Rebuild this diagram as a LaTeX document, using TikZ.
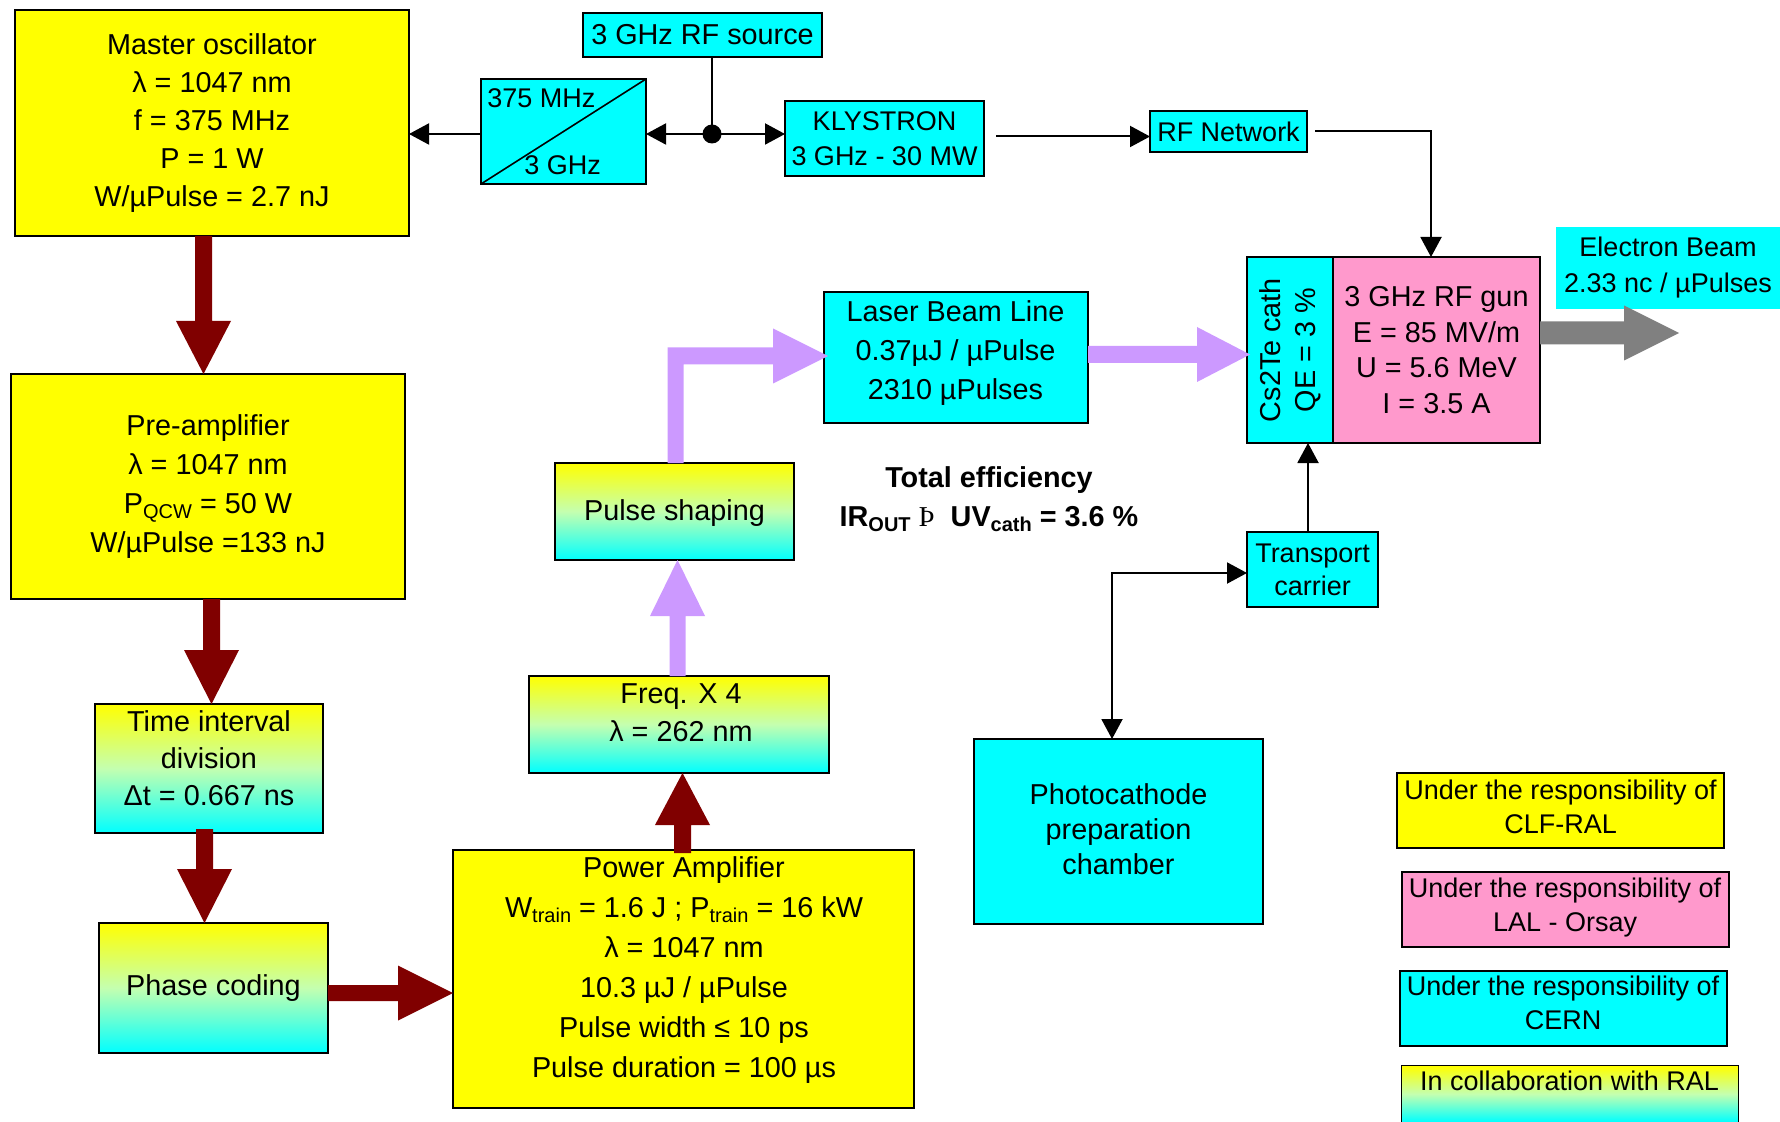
\documentclass[tikz,border=0pt]{standalone}
\usepackage{fontspec}
\setmainfont{Liberation Sans}
\newfontfamily\serifthorn{Liberation Serif}
\usetikzlibrary{arrows.meta,calc}
\definecolor{ylw}{HTML}{FFFF00}
\definecolor{cyn}{HTML}{00FFFF}
\definecolor{gmid}{HTML}{C4FFB0}
\definecolor{pnk}{HTML}{FF99CC}
\definecolor{pur}{HTML}{CC99FF}
\definecolor{dred}{HTML}{800000}
\definecolor{gry}{HTML}{808080}
\newcommand\sbs[1]{\raisebox{-2.5pt}{\fontsize{10}{10}\selectfont #1}}
% block arrows: [style]{start}{tip}{stem half}{head half}{head length}
\newcommand\arrD[6][]{\fill[#1] ($(#3)+(-#5,-#6)$) -- (#3) -- ($(#3)+(#5,-#6)$) -- ($(#3)+(#4,-#6)$) -- ($(#2)+(#4,0)$) -- ($(#2)+(-#4,0)$) -- ($(#3)+(-#4,-#6)$) -- cycle;}
\newcommand\arrU[6][]{\fill[#1] ($(#3)+(-#5,#6)$) -- (#3) -- ($(#3)+(#5,#6)$) -- ($(#3)+(#4,#6)$) -- ($(#2)+(#4,0)$) -- ($(#2)+(-#4,0)$) -- ($(#3)+(-#4,#6)$) -- cycle;}
\newcommand\arrR[6][]{\fill[#1] ($(#3)+(-#6,-#5)$) -- (#3) -- ($(#3)+(-#6,#5)$) -- ($(#3)+(-#6,#4)$) -- ($(#2)+(0,#4)$) -- ($(#2)+(0,-#4)$) -- ($(#3)+(-#6,-#4)$) -- cycle;}
\begin{document}
\begin{tikzpicture}[x=0.5pt,y=-0.5pt,
  lsp/.style={font=\fontsize{14.4}{#1}\selectfont},
  ssp/.style={font=\fontsize{13.5}{#1}\selectfont},
  box/.style={draw=black,line width=0.8pt,inner sep=0pt,outer sep=0pt,align=center,lsp=17},
  gbox/.style={box,top color=ylw,bottom color=cyn,middle color=gmid},
  txt/.style={align=center,inner sep=0pt,lsp=#1},
  stxt/.style={align=center,inner sep=0pt,ssp=#1},
  con/.style={line width=1pt,-{Triangle[length=10pt,width=10.5pt]}},
  con2/.style={line width=1pt,{Triangle[length=10pt,width=10.5pt]}-{Triangle[length=10pt,width=10.5pt]}}]
\useasboundingbox (0,0) rectangle (1780,1122);

% ---- left chain ----
\node[box,fill=ylw,minimum width=197pt,minimum height=113pt,lsp=18.9] (mo) at (212,123)
  {Master oscillator\\λ = 1047 nm\\f = 375 MHz\\P = 1 W\\W/µPulse = 2.7 nJ};
\node[box,fill=ylw,minimum width=197pt,minimum height=112.5pt,lsp=19.6] (pre) at (208,486.5)
  {Pre-amplifier\\λ = 1047 nm\\P\sbs{QCW} = 50 W\\W/µPulse =133 nJ};
\node[gbox,minimum width=114pt,minimum height=64.5pt] (tid) at (209,768.5) {};
\node[txt=18.5] (tidt) at (209,758) {Time interval\\division\\Δt = 0.667 ns};
\node[gbox,minimum width=114.5pt,minimum height=65pt] (phc) at (213.5,988) {Phase coding};
\node[box,fill=ylw,minimum width=230.5pt,minimum height=129pt] (pa) at (683.5,979) {};
\node[txt=20] (pat) at (684,970) {Power Amplifier\\W\sbs{train} = 1.6 J ; P\sbs{train} = 16 kW\\λ = 1047 nm\\10.3 µJ / µPulse\\Pulse width ≤ 10 ps\\Pulse duration = 100 µs};
\node[gbox,minimum width=150pt,minimum height=48.5pt] (freq) at (679,724.5) {};
\node[txt=19] (freqt) at (681,713) {Freq. X 4\\λ = 262 nm};
\node[gbox,minimum width=119.5pt,minimum height=48.5pt] (ps) at (674.5,511.5) {};
\node[txt=17] (pst) at (674.5,513.5) {Pulse shaping};
\node[box,fill=cyn,minimum width=132pt,minimum height=65.5pt] (lbl) at (956,357.5) {};
\node[txt=19.5] (lblt) at (955.5,353) {Laser Beam Line\\0.37µJ / µPulse\\2310 µPulses};

% ---- RF chain ----
\node[box,fill=cyn,minimum width=119.5pt,minimum height=22pt] (rfs) at (702.5,35) {3 GHz RF source};
\node[box,fill=cyn,minimum width=82.5pt,minimum height=52.5pt] (conv) at (563.5,131.5) {};
\draw[line width=0.8pt] (conv.south west) -- (conv.north east);
\node[anchor=west,inner sep=0pt,ssp=17] (c1) at (487,98) {375 MHz};
\node[anchor=west,inner sep=0pt,ssp=17] (c2) at (524,165) {3 GHz};
\node[box,fill=cyn,minimum width=99.5pt,minimum height=37.5pt,ssp=17.75] (kly) at (884.5,138.5) {KLYSTRON\\3 GHz - 30 MW};
\node[box,fill=cyn,minimum width=78.5pt,minimum height=20.5pt,ssp=17] (rfn) at (1228.5,131.5) {RF Network};
\node[box,fill=cyn,minimum width=43pt,minimum height=93pt] (cath) at (1290,350) {};
\node[rotate=90,txt=17.5] (catht) at (1290,350) {Cs2Te cath\\QE = 3 \%};
\node[box,fill=pnk,minimum width=103.5pt,minimum height=93pt,lsp=17.9] (gun) at (1436.5,350)
  {3 GHz RF gun\\E = 85 MV/m\\U = 5.6 MeV\\I = 3.5 A};
\node[fill=cyn,inner sep=0pt,minimum width=112pt,minimum height=41pt,align=center,ssp=18] (eb) at (1668,268)
  {Electron Beam\\2.33 nc / µPulses};
\node[box,fill=cyn,minimum width=65.5pt,minimum height=37.5pt,ssp=16.5] (tc) at (1312.5,569.5) {Transport\\carrier};
\node[box,fill=cyn,minimum width=144.5pt,minimum height=92.5pt] (pcc) at (1118.5,831.5) {};
\node[txt=17.5] (pcct) at (1118.5,829) {Photocathode\\preparation\\chamber};

% ---- efficiency ----
\node[align=center,inner sep=0pt,font=\bfseries\fontsize{14.4}{19.5}\selectfont] (eff) at (989,499.5)
  {Total efficiency\\IR\sbs{OUT} {\serifthorn\mdseries Þ}\ \ UV\sbs{cath} = 3.6 \%};

% ---- legend ----
\node[box,fill=ylw,minimum width=163.5pt,minimum height=37.5pt] (l1) at (1560.5,810.5) {};
\node[stxt=17] (l1t) at (1560.5,806.5) {Under the responsibility of\\CLF-RAL};
\node[box,fill=pnk,minimum width=163.5pt,minimum height=37.5pt] (l2) at (1565.5,909.5) {};
\node[stxt=17] (l2t) at (1565,907.5) {Under the responsibility of\\LAL - Orsay};
\node[box,fill=cyn,minimum width=163.5pt,minimum height=37.5pt] (l3) at (1563.5,1008.5) {};
\node[stxt=17] (l3t) at (1563,1003) {Under the responsibility of\\CERN};
\node[top color=ylw,bottom color=cyn,middle color=gmid,inner sep=0pt,minimum width=168pt,minimum height=28pt] (l4) at (1570,1094) {};
\draw[line width=0.8pt] (l4.south west) -- (l4.north west) -- (l4.north east) -- (l4.south east);
\node[stxt=17] (l4t) at (1569.5,1081) {In collaboration with RAL};

% ---- thin connectors ----
\node[circle,fill=black,inner sep=0pt,minimum size=9.5pt] (dot) at (712,134) {};
\draw[line width=1pt] (dot.center |- rfs.south) -- (dot.center);
\draw[con] (dot.center) -- (conv.east |- dot.center);
\draw[con] (dot.center) -- (kly.west |- dot.center);
\draw[con] (conv.west |- dot.center) -- (mo.east |- dot.center);
\coordinate (k1) at ($(kly.east)+(12,-2)$);
\draw[con] (k1) -- (rfn.west |- k1);
\draw[con] ($(rfn.east)+(8,0)$) -| ($(gun.north)+(-5.5,0)$);
\coordinate (tcn) at ($(tc.north)+(-4.5,0)$);
\draw[con] (tcn) -- (tcn |- cath.south);
\draw[con2] ($(pcc.north)+(-6.5,0)$) |- ($(tc.west)+(0,3.5)$);

% ---- block arrows ----
\coordinate (t1) at ($(pre.north)+(-4.5,0)$);
\coordinate (s1) at (t1 |- mo.south);
\arrD[dred]{s1}{t1}{8.5}{27.5}{53}
\coordinate (t2) at ($(tid.north)+(2.5,0)$);
\coordinate (s2) at (t2 |- pre.south);
\arrD[dred]{s2}{t2}{8.5}{27.5}{54}
\coordinate (t3) at ($(phc.north)+(-9,0)$);
\coordinate (s3) at ($(t3 |- tid.south)+(0,-4)$);
\arrD[dred]{s3}{t3}{8.5}{27.5}{54}
\coordinate (t4) at ($(pa.west)+(0,14)$);
\coordinate (s4) at (phc.east |- t4);
\arrR[dred]{s4}{t4}{8}{27.5}{55}
\coordinate (t5) at ($(freq.south)+(3.5,0)$);
\coordinate (s5) at ($(t5 |- pa.north)+(0,3)$);
\arrU[dred]{s5}{t5}{8.5}{27.5}{52}
\coordinate (t6) at ($(ps.south)+(3,0)$);
\coordinate (s6) at (t6 |- freq.north);
\arrU[pur]{s6}{t6}{8}{27.5}{56}
\coordinate (t7) at ($(lbl.west)+(4,-1.5)$);
\coordinate (s7) at ($(ps.north)+(1,0)$);
\coordinate (c7) at (s7 |- t7);
\fill[pur] ($(s7)+(-8,0)$) -- ($(s7)+(8,0)$) -- ($(c7)+(8,8.5)$) -- ($(t7)+(-55,8.5)$) -- ($(t7)+(-55,27.5)$) -- (t7) -- ($(t7)+(-55,-27.5)$) -- ($(t7)+(-55,-8.5)$) -- ($(c7)+(-8,-8.5)$) -- cycle;
\coordinate (t8) at ($(cath.west)+(3,4.5)$);
\coordinate (s8) at (lbl.east |- t8);
\arrR[pur]{s8}{t8}{8.5}{27.5}{53}
\coordinate (t9) at ($(gun.east)+(139,-17)$);
\coordinate (s9) at (gun.east |- t9);
\arrR[gry]{s9}{t9}{11.5}{27.5}{55}
\end{tikzpicture}
\end{document}
